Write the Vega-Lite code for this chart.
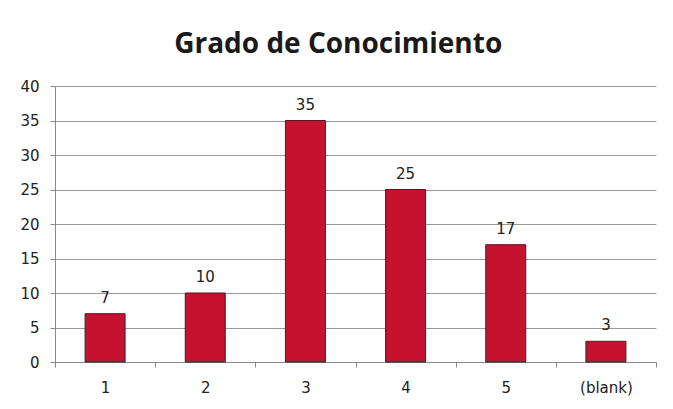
{
  "$schema": "https://vega.github.io/schema/vega-lite/v6.json",
  "width": 601,
  "height": 276,
  "autosize": {"type": "none"},
  "padding": {"left": 55, "top": 86, "right": 17, "bottom": 47},
  "background": "white",
  "title": {
    "text": "Grado de Conocimiento",
    "font": "Open Sans",
    "fontSize": 28,
    "fontWeight": "bold",
    "color": "#1a1a1a",
    "anchor": "middle",
    "frame": "bounds",
    "offset": 20
  },
  "data": {
    "values": [
      {"categoria": "1", "cantidad": 7},
      {"categoria": "2", "cantidad": 10},
      {"categoria": "3", "cantidad": 35},
      {"categoria": "4", "cantidad": 25},
      {"categoria": "5", "cantidad": 17},
      {"categoria": "(blank)", "cantidad": 3}
    ]
  },
  "encoding": {
    "x": {
      "field": "categoria",
      "type": "nominal",
      "sort": null,
      "title": null,
      "scale": {"paddingInner": 0, "paddingOuter": 0},
      "axis": {
        "labelAngle": 0,
        "labelFont": "DejaVu Sans",
        "labelFontSize": 15,
        "labelColor": "#222222",
        "labelPadding": 13,
        "tickBand": "extent",
        "tickSize": 5,
        "tickColor": "#888888",
        "domainColor": "#888888",
        "grid": false
      }
    },
    "y": {
      "field": "cantidad",
      "type": "quantitative",
      "title": null,
      "scale": {"domain": [0, 40]},
      "axis": {
        "values": [0, 5, 10, 15, 20, 25, 30, 35, 40],
        "labelFont": "DejaVu Sans",
        "labelFontSize": 15,
        "labelColor": "#222222",
        "labelPadding": 11,
        "tickSize": 5,
        "tickColor": "#888888",
        "domainColor": "#888888",
        "gridColor": "#999999",
        "gridWidth": 1
      }
    }
  },
  "layer": [
    {
      "mark": {"type": "bar", "size": 40, "color": "#C41230", "stroke": "#2b2b2b", "strokeWidth": 1}
    },
    {
      "mark": {"type": "text", "baseline": "bottom", "dy": -8, "font": "DejaVu Sans", "fontSize": 15, "color": "#222222"},
      "encoding": {"text": {"field": "cantidad", "type": "quantitative"}}
    }
  ],
  "config": {"view": {"stroke": null}}
}
